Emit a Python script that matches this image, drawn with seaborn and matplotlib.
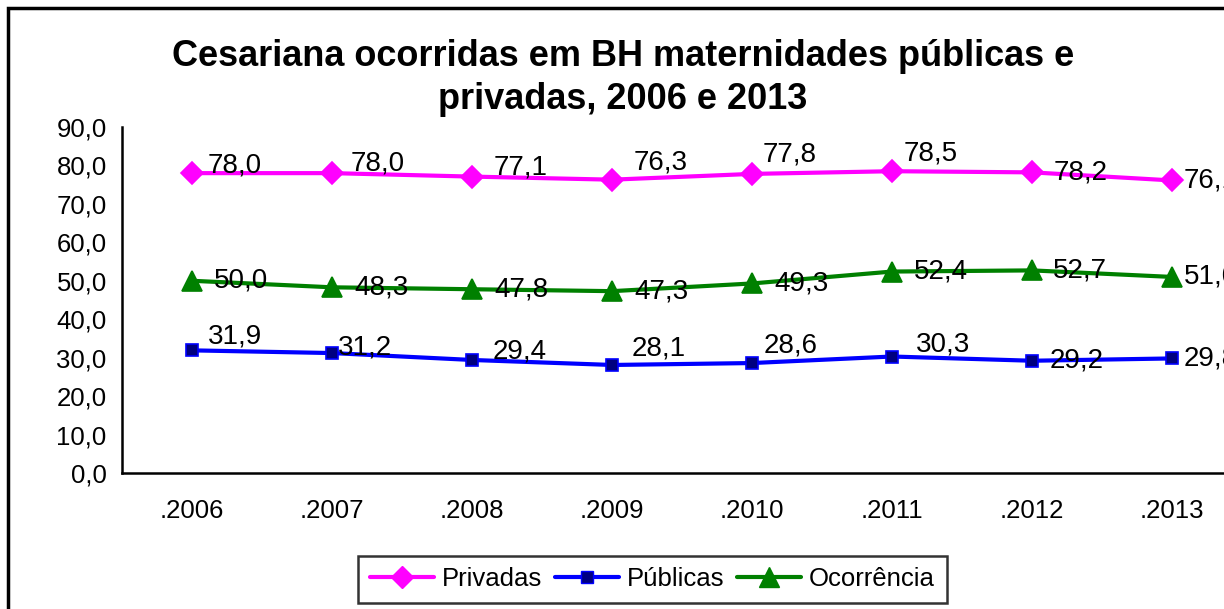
import pandas as pd
import matplotlib
matplotlib.use("Agg")
import matplotlib.pyplot as plt
import seaborn as sns
from matplotlib.patches import Rectangle
from matplotlib.lines import Line2D
from matplotlib.ticker import FuncFormatter, FixedLocator

anos = [".2006", ".2007", ".2008", ".2009", ".2010", ".2011", ".2012", ".2013"]
privadas = [78.0, 78.0, 77.1, 76.3, 77.8, 78.5, 78.2, 76.1]
publicas = [31.9, 31.2, 29.4, 28.1, 28.6, 30.3, 29.2, 29.8]
ocorrencia = [50.0, 48.3, 47.8, 47.3, 49.3, 52.4, 52.7, 51.0]

# deslocamento dos rótulos (pixels: direita, cima)
off_priv = [(16, 8), (19, 10), (22, 9), (22, 17), (11, 19), (12, 18), (22, 0), (12, 0)]
off_pub = [(16, 14), (6, 6), (21, 8), (20, 16), (12, 18), (24, 12), (18, 0), (12, 0)]
off_oco = [(22, 0), (22, 0), (22, 0), (22, 0), (22, 0), (22, 0), (21, 0), (12, 0)]

sns.set_style("white")
plt.rcParams['font.family'] = ['Liberation Sans', 'DejaVu Sans']
plt.rcParams['text.color'] = 'black'
plt.rcParams['xtick.color'] = 'black'
plt.rcParams['ytick.color'] = 'black'
plt.rcParams['axes.labelcolor'] = 'black'

fig = plt.figure(figsize=(12.24, 6.09), dpi=100)
ax = fig.add_axes([122/1224, 1-473/609, 1120/1224, 346/609])

series = [
    ("Privadas", privadas, "#FF00FF", "D", 11.5, "#FF00FF", "#FF00FF", off_priv),
    ("Públicas", publicas, "#0000FF", "s", 8.5, "#000080", "#0000FF", off_pub),
    ("Ocorrência", ocorrencia, "#008000", "^", 15, "#008000", "#008000", off_oco),
]

for nome, vals, cor, mk, ms, face, edge, offs in series:
    df = pd.DataFrame({"ano": anos, "valor": vals})
    sns.lineplot(data=df, x="ano", y="valor", ax=ax, color=cor, linewidth=3,
                 marker=mk, markersize=ms, markerfacecolor=face,
                 markeredgecolor=edge, markeredgewidth=1.2, label=nome,
                 legend=False)
    for i, v in enumerate(vals):
        ax.annotate(f"{v:.1f}".replace(".", ","), (i, v), xytext=offs[i],
                    textcoords="offset pixels", ha="left", va="center",
                    fontsize=20, color="black", annotation_clip=False)

ax.set_xlim(-0.5, 7.5)
ax.set_ylim(0, 90)
ax.set_yticks(range(0, 91, 10))
ax.yaxis.set_major_formatter(FuncFormatter(lambda v, p: f"{v:.1f}".replace(".", ",")))
ax.set_xticks(range(len(anos)))
ax.set_xticklabels(anos)
ax.xaxis.set_minor_locator(FixedLocator([i - 0.5 for i in range(len(anos) + 1)]))
ax.tick_params(axis="x", which="major", length=0, pad=19, labelsize=18.5)
ax.tick_params(axis="x", which="minor", length=8, width=1.8, direction="out", color="black")
ax.tick_params(axis="y", length=7, width=1.8, direction="out", color="black", labelsize=18.5, pad=4)
ax.set_xlabel("")
ax.set_ylabel("")
for s in ["top", "right"]:
    ax.spines[s].set_visible(False)
for s in ["left", "bottom"]:
    ax.spines[s].set_color("black")
    ax.spines[s].set_linewidth(1.8)
ax.patch.set_alpha(0)

fig.text(0.509, 0.872, "Cesariana ocorridas em BH maternidades públicas e\nprivadas, 2006 e 2013",
         ha="center", va="center", fontsize=26, fontweight="bold", linespacing=1.3)

fig.patches.append(Rectangle((8/1224, -0.1), 1.2, 1.1 - 8/609, transform=fig.transFigure,
                             fill=False, edgecolor="black", linewidth=2.5, clip_on=False))

handles = [Line2D([0], [0], color=c, linewidth=3, marker=mk, markersize=ms,
                  markerfacecolor=face, markeredgecolor=edge)
           for _, _, c, mk, ms, face, edge, _ in series]
leg = fig.legend(handles, [s[0] for s in series], loc="center", bbox_to_anchor=(0.533, 0.049),
                 ncol=3, fontsize=18.5, frameon=True, fancybox=False, handlelength=2.5,
                 columnspacing=0.5, handletextpad=0.3, borderpad=0.45, borderaxespad=0)
leg.get_frame().set_edgecolor("black")
leg.get_frame().set_linewidth(1.8)

fig.savefig("out.png", dpi=100)
